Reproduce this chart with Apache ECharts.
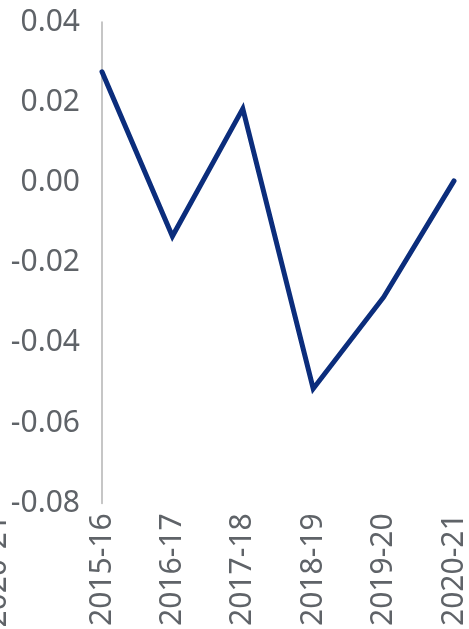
<!DOCTYPE html>
<html>
<head>
<meta charset="utf-8">
<script src="https://cdn.jsdelivr.net/npm/echarts@6/dist/echarts.min.js"></script>
<style>
  html, body { margin: 0; padding: 0; background: #fff; }
  #main { width: 469px; height: 629px; }
</style>
</head>
<body>
<div id="main"></div>
<script>
var years = ["2015-16", "2016-17", "2017-18", "2018-19", "2019-20", "2020-21"];
var values = [0.0276, -0.0134, 0.0184, -0.0514, -0.0286, 0.0004];
var yTicks = { min: -0.08, max: 0.04, step: 0.02 };

var chart = echarts.init(document.getElementById("main"));
var font = "'Noto Sans', sans-serif";
var option = {
  animation: false,
  grid: { left: 102, right: 12, top: 22, bottom: 124 },
  xAxis: {
    type: "category",
    data: years,
    boundaryGap: false,
    axisLine: { show: false },
    axisTick: { show: false },
    axisLabel: {
      rotate: 90,
      margin: 10,
      color: "#5f6368",
      fontSize: 30,
      fontFamily: font,
    },
  },
  yAxis: {
    type: "value",
    min: yTicks.min,
    max: yTicks.max,
    interval: yTicks.step,
    axisLine: { show: true, lineStyle: { color: "#b3b3b3", width: 1.5 } },
    axisTick: { show: false },
    splitLine: { show: false },
    axisLabel: {
      margin: 22,
      color: "#5f6368",
      fontSize: 30,
      fontFamily: font,
      formatter: function (v) { return v.toFixed(2); },
    },
  },
  // stray clipped label at the far left of the original picture
  graphic: [
    {
      type: "text",
      x: -3,
      y: 515,
      rotation: Math.PI / 2,
      style: {
        text: "2020-21",
        align: "right",
        verticalAlign: "middle",
        fill: "#5f6368",
        font: "30px " + font,
      },
    },
  ],
  series: [
    {
      type: "line",
      data: values,
      symbol: "none",
      lineStyle: { color: "#0b2d7c", width: 5, cap: "round", join: "miter" },
    },
  ],
};
chart.setOption(option);
</script>
</body>
</html>
